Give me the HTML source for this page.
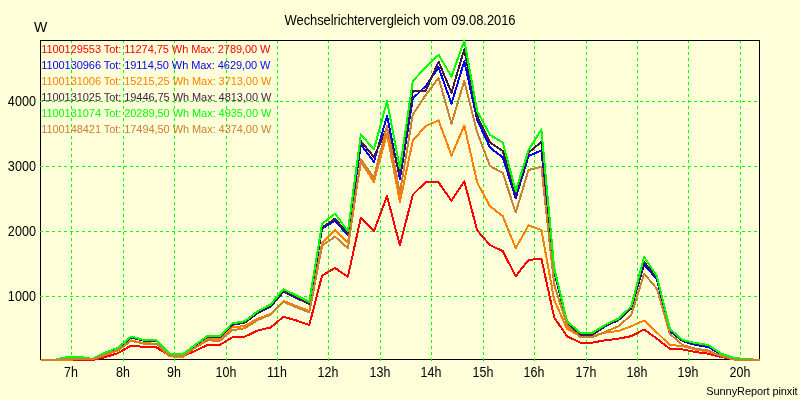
<!DOCTYPE html><html><head><meta charset="utf-8"><title>Wechselrichtervergleich</title><style>
html,body{margin:0;padding:0}body{width:800px;height:400px;background:#FEFFD9;position:relative;overflow:hidden;font-family:"Liberation Sans",Arial,sans-serif;color:#000}
.t{position:absolute;white-space:nowrap;line-height:1}
.a{font-size:13px;transform:scaleY(1.08);transform-origin:50% 0}.l{font-size:11px;left:41.2px;letter-spacing:-0.06px}
</style></head><body>
<svg width="800" height="400" viewBox="0 0 800 400" style="position:absolute;left:0;top:0" shape-rendering="crispEdges">
<rect x="40.5" y="40.5" width="719" height="319" fill="none" stroke="#000" stroke-width="1"/>
<line x1="71.5" y1="41" x2="71.5" y2="361" stroke="#00FF00" stroke-width="1" stroke-dasharray="3 3" stroke-dashoffset="1"/>
<line x1="123.5" y1="41" x2="123.5" y2="361" stroke="#00FF00" stroke-width="1" stroke-dasharray="3 3" stroke-dashoffset="1"/>
<line x1="174.5" y1="41" x2="174.5" y2="361" stroke="#00FF00" stroke-width="1" stroke-dasharray="3 3" stroke-dashoffset="1"/>
<line x1="226.5" y1="41" x2="226.5" y2="361" stroke="#00FF00" stroke-width="1" stroke-dasharray="3 3" stroke-dashoffset="1"/>
<line x1="277.5" y1="41" x2="277.5" y2="361" stroke="#00FF00" stroke-width="1" stroke-dasharray="3 3" stroke-dashoffset="1"/>
<line x1="328.5" y1="41" x2="328.5" y2="361" stroke="#00FF00" stroke-width="1" stroke-dasharray="3 3" stroke-dashoffset="1"/>
<line x1="380.5" y1="41" x2="380.5" y2="361" stroke="#00FF00" stroke-width="1" stroke-dasharray="3 3" stroke-dashoffset="1"/>
<line x1="431.5" y1="41" x2="431.5" y2="361" stroke="#00FF00" stroke-width="1" stroke-dasharray="3 3" stroke-dashoffset="1"/>
<line x1="483.5" y1="41" x2="483.5" y2="361" stroke="#00FF00" stroke-width="1" stroke-dasharray="3 3" stroke-dashoffset="1"/>
<line x1="534.5" y1="41" x2="534.5" y2="361" stroke="#00FF00" stroke-width="1" stroke-dasharray="3 3" stroke-dashoffset="1"/>
<line x1="586.5" y1="41" x2="586.5" y2="361" stroke="#00FF00" stroke-width="1" stroke-dasharray="3 3" stroke-dashoffset="1"/>
<line x1="637.5" y1="41" x2="637.5" y2="361" stroke="#00FF00" stroke-width="1" stroke-dasharray="3 3" stroke-dashoffset="1"/>
<line x1="688.5" y1="41" x2="688.5" y2="361" stroke="#00FF00" stroke-width="1" stroke-dasharray="3 3" stroke-dashoffset="1"/>
<line x1="740.5" y1="41" x2="740.5" y2="361" stroke="#00FF00" stroke-width="1" stroke-dasharray="3 3" stroke-dashoffset="1"/>
<line x1="40" y1="101.5" x2="759" y2="101.5" stroke="#00FF00" stroke-width="1" stroke-dasharray="3 3"/>
<line x1="40" y1="166.5" x2="759" y2="166.5" stroke="#00FF00" stroke-width="1" stroke-dasharray="3 3"/>
<line x1="40" y1="231.5" x2="759" y2="231.5" stroke="#00FF00" stroke-width="1" stroke-dasharray="3 3"/>
<line x1="40" y1="296.5" x2="759" y2="296.5" stroke="#00FF00" stroke-width="1" stroke-dasharray="3 3"/>
<clipPath id="c"><rect x="40" y="40" width="720.5" height="321"/></clipPath>
<g clip-path="url(#c)" fill="none" stroke-width="2" stroke-linejoin="round">
<polyline points="41.4,360.0 54.2,360.0 67.1,360.0 79.9,360.0 92.7,360.0 105.6,357.0 118.4,353.0 131.2,345.5 144.0,347.0 156.8,347.5 169.6,356.0 182.4,356.5 195.0,351.0 207.5,345.0 219.8,345.0 232.0,337.5 244.8,336.7 257.7,330.5 270.6,327.5 283.5,316.7 296.4,320.5 309.3,325.0 322.1,275.5 335.0,268.0 347.9,276.7 360.9,217.5 373.9,231.2 387.0,196.0 399.9,245.5 412.8,194.7 425.7,182.0 438.6,182.5 451.5,200.7 464.3,181.2 477.2,230.5 490.0,245.0 502.8,251.2 515.7,276.2 528.5,260.0 541.4,258.7 554.2,317.5 567.0,336.2 579.9,342.5 592.7,342.5 605.6,340.3 618.4,338.7 631.2,336.2 644.1,329.5 656.9,338.7 669.8,348.8 682.6,349.5 695.4,352.0 708.3,353.7 721.1,357.0 734.0,359.5 746.8,360.0 759.6,360.0" stroke="#FF0000"/>
<polyline points="41.4,360.0 54.2,360.0 67.1,357.1 79.9,356.9 92.7,359.1 105.6,352.8 118.4,348.0 131.2,337.4 144.0,340.8 156.8,341.2 169.6,354.0 182.4,354.7 195.0,345.6 207.5,336.9 219.8,337.2 232.0,324.9 244.8,322.7 257.7,313.0 270.6,306.6 283.5,291.8 296.4,297.9 309.3,304.2 322.1,228.7 335.0,220.5 347.9,235.5 360.9,144.4 373.9,161.9 387.0,116.0 399.9,179.0 412.8,98.5 425.7,86.0 438.6,67.4 451.5,103.7 464.3,61.1 477.2,120.0 490.0,147.5 502.8,157.5 515.7,198.2 528.5,156.0 541.4,150.5 554.2,271.4 567.0,322.7 579.9,334.8 592.7,334.8 605.6,326.0 618.4,320.1 631.2,308.5 644.1,264.4 656.9,279.4 669.8,331.0 682.6,341.0 695.4,345.0 708.3,347.0 721.1,354.5 734.0,358.5 746.8,359.5 759.6,360.0" stroke="#0000FF"/>
<polyline points="41.4,360.0 54.2,360.0 67.1,359.6 79.9,359.4 92.7,359.2 105.6,355.1 118.4,350.1 131.2,340.3 144.0,343.3 156.8,343.7 169.6,356.3 182.4,357.1 195.0,347.6 207.5,339.0 219.8,339.5 232.0,327.5 244.8,326.0 257.7,318.7 270.6,314.0 283.5,301.0 296.4,306.0 309.3,311.0 322.1,242.5 335.0,230.0 347.9,242.5 360.9,162.0 373.9,181.9 387.0,133.7 399.9,201.9 412.8,140.6 425.7,126.0 438.6,120.5 451.5,155.5 464.3,125.5 477.2,182.5 490.0,206.2 502.8,216.2 515.7,248.2 528.5,225.5 541.4,230.0 554.2,300.0 567.0,328.7 579.9,336.0 592.7,336.0 605.6,332.5 618.4,331.0 631.2,326.2 644.1,320.5 656.9,332.5 669.8,345.0 682.6,346.0 695.4,349.5 708.3,351.5 721.1,356.0 734.0,359.0 746.8,360.0 759.6,360.0" stroke="#FF8000"/>
<polyline points="41.4,360.0 54.2,360.0 67.1,357.1 79.9,356.9 92.7,359.0 105.6,352.8 118.4,347.9 131.2,337.3 144.0,340.7 156.8,341.1 169.6,353.9 182.4,354.7 195.0,345.5 207.5,336.8 219.8,337.1 232.0,324.7 244.8,322.5 257.7,312.8 270.6,306.3 283.5,291.5 296.4,297.6 309.3,303.9 322.1,227.5 335.0,218.7 347.9,233.7 360.9,141.2 373.9,156.9 387.0,128.0 399.9,174.0 412.8,90.7 425.7,90.7 438.6,61.7 451.5,92.5 464.3,49.2 477.2,116.0 490.0,142.5 502.8,151.0 515.7,195.0 528.5,152.5 541.4,142.0 554.2,271.0 567.0,322.5 579.9,334.5 592.7,334.5 605.6,325.8 618.4,319.8 631.2,308.2 644.1,262.0 656.9,277.5 669.8,329.7 682.6,340.7 695.4,343.6 708.3,345.5 721.1,353.9 734.0,358.1 746.8,359.0 759.6,360.0" stroke="#431B48"/>
<polyline points="41.4,360.0 54.2,360.0 67.1,357.0 79.9,356.8 92.7,359.0 105.6,352.5 118.4,347.5 131.2,336.5 144.0,340.0 156.8,340.5 169.6,353.7 182.4,354.5 195.0,345.0 207.5,336.0 219.8,336.3 232.0,323.5 244.8,321.2 257.7,311.2 270.6,304.5 283.5,289.2 296.4,295.5 309.3,302.0 322.1,223.7 335.0,213.7 347.9,231.2 360.9,134.4 373.9,149.4 387.0,101.2 399.9,168.5 412.8,81.2 425.7,67.0 438.6,54.9 451.5,76.5 464.3,40.5 477.2,111.2 490.0,135.0 502.8,142.5 515.7,191.0 528.5,150.0 541.4,129.5 554.2,268.0 567.0,321.2 579.9,332.5 592.7,332.5 605.6,324.7 618.4,318.5 631.2,306.5 644.1,256.8 656.9,276.2 669.8,328.7 682.6,340.0 695.4,343.0 708.3,345.0 721.1,353.7 734.0,358.0 746.8,359.0 759.6,360.0" stroke="#00FF00"/>
<polyline points="41.4,360.0 54.2,360.0 67.1,359.0 79.9,358.8 92.7,359.3 105.6,354.5 118.4,349.8 131.2,340.8 144.0,343.7 156.8,344.1 169.6,355.7 182.4,356.5 195.0,347.8 207.5,340.4 219.8,340.7 232.0,330.2 244.8,328.3 257.7,320.1 270.6,314.6 283.5,302.0 296.4,307.2 309.3,312.5 322.1,245.5 335.0,236.7 347.9,248.2 360.9,159.4 373.9,177.8 387.0,126.0 399.9,193.0 412.8,114.5 425.7,95.0 438.6,78.0 451.5,123.7 464.3,81.0 477.2,132.5 490.0,166.0 502.8,173.0 515.7,212.5 528.5,170.0 541.4,167.0 554.2,284.6 567.0,325.0 579.9,337.0 592.7,337.0 605.6,331.8 618.4,326.3 631.2,315.0 644.1,273.7 656.9,288.7 669.8,333.7 682.6,345.0 695.4,348.7 708.3,350.5 721.1,356.0 734.0,359.5 746.8,360.0 759.6,360.0" stroke="#CD7F32"/>
</g>
</svg>
<div class="t a" style="left:0;width:800px;text-align:center;top:13px;letter-spacing:-0.1px">Wechselrichtervergleich vom 09.08.2016</div>
<div class="t" style="font-size:14px;left:34px;top:19.5px">W</div>
<div class="t a" style="right:764px;top:93.7px;transform:scale(0.97,1.08);transform-origin:100% 0">4000</div>
<div class="t a" style="right:764px;top:158.7px;transform:scale(0.97,1.08);transform-origin:100% 0">3000</div>
<div class="t a" style="right:764px;top:223.7px;transform:scale(0.97,1.08);transform-origin:100% 0">2000</div>
<div class="t a" style="right:764px;top:288.7px;transform:scale(0.97,1.08);transform-origin:100% 0">1000</div>
<div class="t a" style="left:51.0px;width:40px;text-align:center;top:365px;transform:scale(0.96,1.08)">7h</div>
<div class="t a" style="left:103.0px;width:40px;text-align:center;top:365px;transform:scale(0.96,1.08)">8h</div>
<div class="t a" style="left:154.0px;width:40px;text-align:center;top:365px;transform:scale(0.96,1.08)">9h</div>
<div class="t a" style="left:206.0px;width:40px;text-align:center;top:365px;transform:scale(0.96,1.08)">10h</div>
<div class="t a" style="left:257.0px;width:40px;text-align:center;top:365px;transform:scale(0.96,1.08)">11h</div>
<div class="t a" style="left:308.0px;width:40px;text-align:center;top:365px;transform:scale(0.96,1.08)">12h</div>
<div class="t a" style="left:360.0px;width:40px;text-align:center;top:365px;transform:scale(0.96,1.08)">13h</div>
<div class="t a" style="left:411.0px;width:40px;text-align:center;top:365px;transform:scale(0.96,1.08)">14h</div>
<div class="t a" style="left:463.0px;width:40px;text-align:center;top:365px;transform:scale(0.96,1.08)">15h</div>
<div class="t a" style="left:514.0px;width:40px;text-align:center;top:365px;transform:scale(0.96,1.08)">16h</div>
<div class="t a" style="left:566.0px;width:40px;text-align:center;top:365px;transform:scale(0.96,1.08)">17h</div>
<div class="t a" style="left:617.0px;width:40px;text-align:center;top:365px;transform:scale(0.96,1.08)">18h</div>
<div class="t a" style="left:668.0px;width:40px;text-align:center;top:365px;transform:scale(0.96,1.08)">19h</div>
<div class="t a" style="left:720.0px;width:40px;text-align:center;top:365px;transform:scale(0.96,1.08)">20h</div>
<div class="t l" style="top:44px;color:#FF0000">1100129553 Tot: 11274,75 Wh Max: 2789,00 W</div>
<div class="t l" style="top:60px;color:#0000FF">1100130966 Tot: 19114,50 Wh Max: 4629,00 W</div>
<div class="t l" style="top:76px;color:#FF8000">1100131006 Tot: 15215,25 Wh Max: 3713,00 W</div>
<div class="t l" style="top:92px;color:#431B48">1100131025 Tot: 19446,75 Wh Max: 4813,00 W</div>
<div class="t l" style="top:108px;color:#00FF00">1100131074 Tot: 20289,50 Wh Max: 4935,00 W</div>
<div class="t l" style="top:124px;color:#CD7F32">1100148421 Tot: 17494,50 Wh Max: 4374,00 W</div>
<div class="t" style="font-size:11px;right:2.5px;top:386px;letter-spacing:-0.1px">SunnyReport pinxit</div>
</body></html>
